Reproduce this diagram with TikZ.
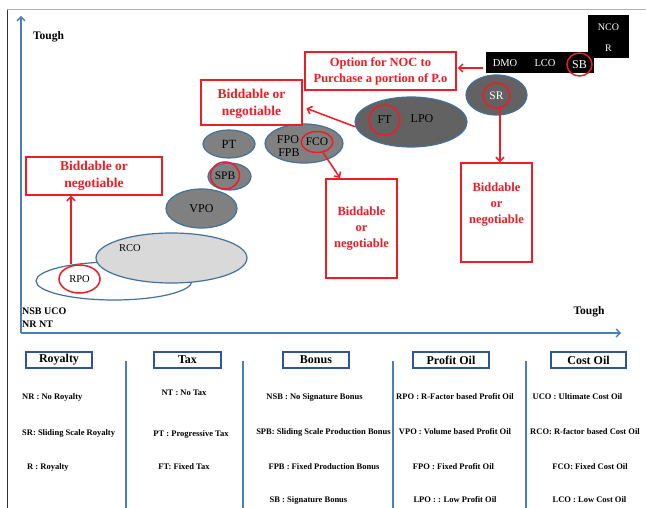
\documentclass[tikz,border=0pt]{standalone}
\usepackage{fontspec}
\setmainfont{Liberation Serif}
\usetikzlibrary{shapes.geometric,arrows.meta}
\definecolor{rd}{HTML}{EE1C25}
\definecolor{ax}{HTML}{4A7EBB}
\definecolor{eo}{HTML}{41719C}
\definecolor{gmid}{HTML}{808080}
\definecolor{gdark}{HTML}{626262}
\definecolor{glight}{HTML}{D9D9D9}
\definecolor{hb}{HTML}{2F5597}
\tikzset{
  ell/.style={ellipse, draw=eo, line width=1.2pt, inner sep=0pt},
  rc/.style={ellipse, draw=rd, line width=1.5pt, inner sep=0pt},
  rbox/.style={draw=rd, line width=1.5pt, fill=white, text=rd, inner sep=0pt},
  rtext/.style={text=rd, align=center, font=\bfseries\fontsize{12.5}{16}\selectfont},
  rarr/.style={draw=rd, line width=1.5pt, -{Straight Barb[length=4pt,width=8pt]}},
  axis/.style={draw=ax, line width=1.3pt, -{Straight Barb[length=4pt,width=8pt]}},
  hbox/.style={draw=hb, line width=1.5pt, minimum height=16pt, inner sep=0pt, font=\bfseries\fontsize{12}{14}\selectfont},
  item/.style={font=\bfseries\fontsize{8.5}{10}\selectfont, inner sep=0pt},
  sepline/.style={draw=ax, line width=1.2pt},
  lab/.style={inner sep=0pt, font=\fontsize{12}{14}\selectfont},
  slab/.style={inner sep=0pt, font=\fontsize{10.5}{12}\selectfont},
  tough/.style={inner sep=0pt, font=\bfseries\fontsize{11.5}{13}\selectfont}
}
\begin{document}
\begin{tikzpicture}[x=1pt, y=-1pt]
\useasboundingbox (0,0) rectangle (646,508);
\fill[white] (0,0) rectangle (646,508);
% frame
\draw[gray!60, line width=1pt] (7,10) -- (646,10);
\draw[black!80, line width=0.8pt] (7,10) -- (7,508);
% axes
\coordinate (org) at (21,333);
\coordinate (ytip) at (21,16);
\coordinate (xtip) at (621,333);
\draw[axis] (org) -- (ytip);
\draw[axis] (org) -- (xtip);
\node[tough] (t1) at (48.5,37) {Tough};
\node[tough] (t2) at (589,312) {Tough};
\node[inner sep=0pt, anchor=west, font=\bfseries\fontsize{10}{12}\selectfont] (nsb) at (22,311) {NSB UCO};
\node[inner sep=0pt, anchor=west, font=\bfseries\fontsize{10}{12}\selectfont] (nrnt) at (22,324) {NR NT};
% ellipses
\node[ell, fill=white, minimum width=156pt, minimum height=38pt] (rpo) at (114,281) {};
\node[ell, fill=glight, minimum width=151pt, minimum height=50pt] (rco) at (171.5,258) {};
\node[slab] (rcot) at (130,248) {RCO};
\node[rc, minimum width=41pt, minimum height=28pt, font=\fontsize{10.5}{12}\selectfont] (rpoc) at (79.5,279) {RPO};
\node[ell, fill=gmid, minimum width=71pt, minimum height=39pt, font=\fontsize{12}{14}\selectfont] (vpo) at (201.5,208.5) {VPO};
\node[ell, fill=gmid, minimum width=43pt, minimum height=27pt] (spb) at (229.5,176.5) {};
\node[rc, minimum width=26pt, minimum height=27pt, font=\fontsize{11.5}{13}\selectfont] (spbc) at (225,175.5) {SPB};
\node[ell, fill=gmid, minimum width=52pt, minimum height=28pt, font=\fontsize{12.5}{14}\selectfont] (pt) at (229,144) {PT};
\node[ell, fill=gmid, minimum width=78pt, minimum height=39pt] (fpo) at (304,143.5) {};
\node[lab] (fpot) at (288,140) {FPO};
\node[lab] (fpbt) at (289,153) {FPB};
\node[rc, minimum width=30pt, minimum height=21pt, font=\fontsize{11.5}{13}\selectfont] (fcoc) at (317,142) {FCO};
\node[ell, fill=gdark, minimum width=112pt, minimum height=50pt] (lpo) at (411,122) {};
\node[lab] (lpot) at (422,119) {LPO};
\node[rc, minimum width=31pt, minimum height=30pt, font=\fontsize{12}{14}\selectfont] (ftc) at (384.5,120) {FT};
\node[ell, fill=gdark, minimum width=61pt, minimum height=40pt] (sr) at (496.5,95) {};
\node[rc, minimum width=27pt, minimum height=25pt, text=white, font=\fontsize{11.5}{13}\selectfont] (src) at (496.5,95.5) {SR};
% black boxes
\node[fill=black, minimum width=108pt, minimum height=21pt, inner sep=0pt] (blk) at (540,62.5) {};
\node[fill=black, minimum width=41pt, minimum height=43pt, inner sep=0pt] (ncob) at (608.5,36.5) {};
\node[slab, text=white] (dmo) at (505,63) {DMO};
\node[slab, text=white] (lco) at (545,63) {LCO};
\node[rc, minimum width=25pt, minimum height=23pt, text=white, font=\fontsize{12}{14}\selectfont] (sbc) at (579.5,64.5) {SB};
\node[slab, text=white, font=\fontsize{10}{12}\selectfont] (nco) at (608.5,27) {NCO};
\node[slab, text=white, font=\fontsize{10}{12}\selectfont] (rr) at (608.5,48) {R};
% red boxes
\node[rbox, minimum width=136pt, minimum height=38pt] (lbox) at (94,176) {};
\node[rtext, font=\bfseries\fontsize{13.5}{17}\selectfont] (lboxt) at (94,176) {Biddable or\\negotiable};
\node[rbox, minimum width=101pt, minimum height=45pt] (mbox) at (251.5,102.5) {};
\node[rtext, font=\bfseries\fontsize{13.5}{17}\selectfont] (mboxt) at (251.5,104) {Biddable or\\negotiable};
\node[rbox, minimum width=151pt, minimum height=38pt] (obox) at (380.5,71) {};
\node[rtext, font=\bfseries\fontsize{12.5}{16}\selectfont] (oboxt) at (380.5,71) {Option for NOC to\\Purchase a portion of P.o};
\node[rbox, minimum width=71pt, minimum height=99pt] (mrbox) at (361.5,228.5) {};
\node[rtext] (mrboxt) at (361.5,229) {Biddable\\or\\negotiable};
\node[rbox, minimum width=71pt, minimum height=99pt] (rbox2) at (496.5,212.5) {};
\node[rtext] (rbox2t) at (496.5,205) {Biddable\\or\\negotiable};
% red arrows
\draw[rarr] (rpoc.north -| 71,0) -- (lbox.south -| 71,0);
\draw[rarr, shorten >=4pt] (lpo.185) -- (mbox.-5);
\coordinate (fcotip) at (340,178);
\draw[rarr] (fcoc.-60) -- (fcotip);
\coordinate (blkarr) at (483,68);
\draw[rarr, shorten >=1pt] (blkarr) -- (blkarr -| obox.east);
\draw[rarr] (src.-75) -- (src.-75 |- rbox2.north);
% bottom legend
\node[hbox, minimum width=66pt] (hroy) at (59,360) {Royalty};
\node[hbox, minimum width=67pt] (htax) at (187.5,360) {Tax};
\node[hbox, minimum width=66pt] (hbon) at (316,360) {Bonus};
\node[hbox, minimum width=76pt] (hpro) at (451,360) {Profit Oil};
\node[hbox, minimum width=75pt] (hcos) at (588.5,360) {Cost Oil};
\coordinate (s1t) at (126,361); \coordinate (s1b) at (126,508);
\coordinate (s2t) at (243,361); \coordinate (s2b) at (243,508);
\coordinate (s3t) at (393,361); \coordinate (s3b) at (393,508);
\coordinate (s4t) at (526,361); \coordinate (s4b) at (526,508);
\draw[sepline] (s1t) -- (s1b);
\draw[sepline] (s2t) -- (s2b);
\draw[sepline] (s3t) -- (s3b);
\draw[sepline] (s4t) -- (s4b);
\node[item, anchor=west] (i1) at (22,397) {NR : No Royalty};
\node[item, anchor=west] (i2) at (22,433) {SR: Sliding Scale Royalty};
\node[item, anchor=west] (i3) at (27,467) {R : Royalty};
\node[item] (i4) at (184,393) {NT : No Tax};
\node[item] (i5) at (191,434) {PT : Progressive Tax};
\node[item] (i6) at (184,467) {FT: Fixed Tax};
\node[item] (i7) at (314.5,397) {NSB : No Signature Bonus};
\node[item] (i8) at (323.5,432) {SPB: Sliding Scale Production Bonus};
\node[item] (i9) at (324,467) {FPB : Fixed Production Bonus};
\node[item] (i10) at (308.5,500) {SB : Signature Bonus};
\node[item] (i11) at (455,397) {RPO : R-Factor based Profit Oil};
\node[item] (i12) at (455,432) {VPO : Volume based Profit Oil};
\node[item] (i13) at (453.5,467) {FPO : Fixed Profit Oil};
\node[item] (i14) at (455,500) {LPO : : Low Profit Oil};
\node[item] (i15) at (577.5,397) {UCO : Ultimate Cost Oil};
\node[item] (i16) at (585,432) {RCO: R-factor based Cost Oil};
\node[item] (i17) at (590,467) {FCO: Fixed Cost Oil};
\node[item] (i18) at (589.5,500) {LCO : Low Cost Oil};
\end{tikzpicture}
\end{document}
